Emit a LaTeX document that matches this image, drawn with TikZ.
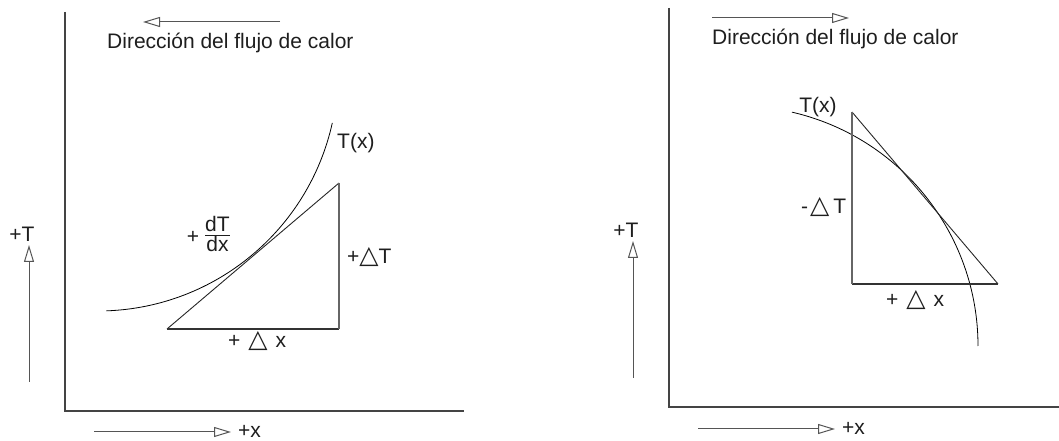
\documentclass[tikz,border=0pt]{standalone}
\usepackage{fontspec}
\setmainfont{Liberation Sans}
\newfontfamily\symfont{DejaVu Sans}
\newcommand{\trisym}{{\symfont\fontsize{25}{27}\selectfont △}}
\usetikzlibrary{arrows.meta}
\definecolor{txt}{HTML}{1e1e1e}
\definecolor{axis}{HTML}{444444}
\definecolor{side}{HTML}{666666}
\definecolor{arr}{HTML}{555555}
\tikzset{
  lbl/.style={inner sep=0pt, text=txt, font=\fontsize{21}{25}\selectfont},
  axisline/.style={draw=axis, line width=1.3pt},
  curveline/.style={draw=black, line width=0.8pt},
  hypline/.style={draw=black!85, line width=0.9pt},
  sideline/.style={draw=side, line width=1.4pt},
  basline/.style={draw=black!80, line width=1.1pt},
  openarrow/.style={draw=arr, line width=1pt, -{Triangle[open, length=17pt, width=10pt]}},
}
\begin{document}
\begin{tikzpicture}[x=1pt,y=1pt]
\useasboundingbox (0,0) rectangle (1059,441);
% ---------- left panel ----------
\coordinate (LAtop) at (65,429);
\coordinate (LO) at (65,30);
\coordinate (LAright) at (464,30);
\draw[axisline] (LAtop) -- (LO) -- (LAright);
\coordinate (LFa) at (280,419);
\coordinate (LFb) at (143,419);
\draw[openarrow] (LFa) -- (LFb);
\node[lbl, anchor=base west] (LFtext) at (107,392) {Dirección del flujo de calor};
\draw[curveline] (98,370) ++(-88:240) arc[start angle=-88, end angle=-12.5, radius=240];
\coordinate (LA) at (167,112);
\coordinate (LB) at (339,112);
\coordinate (LC) at (339,258);
\draw[hypline] (LA) -- (LC);
\draw[basline] (LA) -- (LB);
\draw[sideline] (LB) -- (LC);
\node[lbl, anchor=west] (LTx) at (337,298) {T(x)};
\node[lbl] (Lplus) at (193,204) {+};
\node[lbl, anchor=west, font=\fontsize{21}{23}\selectfont] (Lfrac) at (205,204)
  {\setlength{\arrayrulewidth}{0.7pt}\begin{tabular}{@{}c@{}}dT\\[-3pt]\hline\rule{0pt}{16pt}dx\end{tabular}};
\node[lbl, anchor=base west] (LdT) at (347,177) {+\trisym T};
\node[lbl, anchor=base west] (Ldx) at (228,93) {+\hspace{8pt}\trisym\hspace{8pt}x};
\node[lbl] (LTlab) at (22,207) {+T};
\coordinate (LVa) at (29,59);
\coordinate (LVb) at (29,196);
\draw[openarrow] (LVa) -- (LVb);
\coordinate (LHa) at (94,9);
\coordinate (LHb) at (231,9);
\draw[openarrow] (LHa) -- (LHb);
\node[lbl, anchor=base west] (Lxlab) at (238,3) {+x};
% ---------- right panel ----------
\coordinate (RAtop) at (669,433);
\coordinate (RO) at (669,34);
\coordinate (RAright) at (1059,34);
\draw[axisline] (RAtop) -- (RO) -- (RAright);
\coordinate (RFa) at (712,423);
\coordinate (RFb) at (849,423);
\draw[openarrow] (RFa) -- (RFb);
\node[lbl, anchor=base west] (RFtext) at (712,396) {Dirección del flujo de calor};
\draw[curveline] (738,95) ++(77:240) arc[start angle=77, end angle=0, radius=240];
\coordinate (RP) at (852,329);
\coordinate (RQ) at (852,157);
\coordinate (RR) at (998,157);
\draw[hypline] (RP) -- (RR);
\draw[basline] (RQ) -- (RR);
\draw[sideline] (RP) -- (RQ);
\node[lbl] (RTx) at (818,334) {T(x)};
\node[lbl, anchor=base west] (RdT) at (801,227) {-\hspace{2pt}\trisym\hspace{4pt}T};
\node[lbl, anchor=base west] (Rdx) at (886,134) {+\hspace{8pt}\trisym\hspace{8pt}x};
\node[lbl] (RTlab) at (626,211) {+T};
\coordinate (RVa) at (633,63);
\coordinate (RVb) at (633,200);
\draw[openarrow] (RVa) -- (RVb);
\coordinate (RHa) at (698,12);
\coordinate (RHb) at (835,12);
\draw[openarrow] (RHa) -- (RHb);
\node[lbl, anchor=base west] (Rxlab) at (842,6) {+x};
\end{tikzpicture}
\end{document}
